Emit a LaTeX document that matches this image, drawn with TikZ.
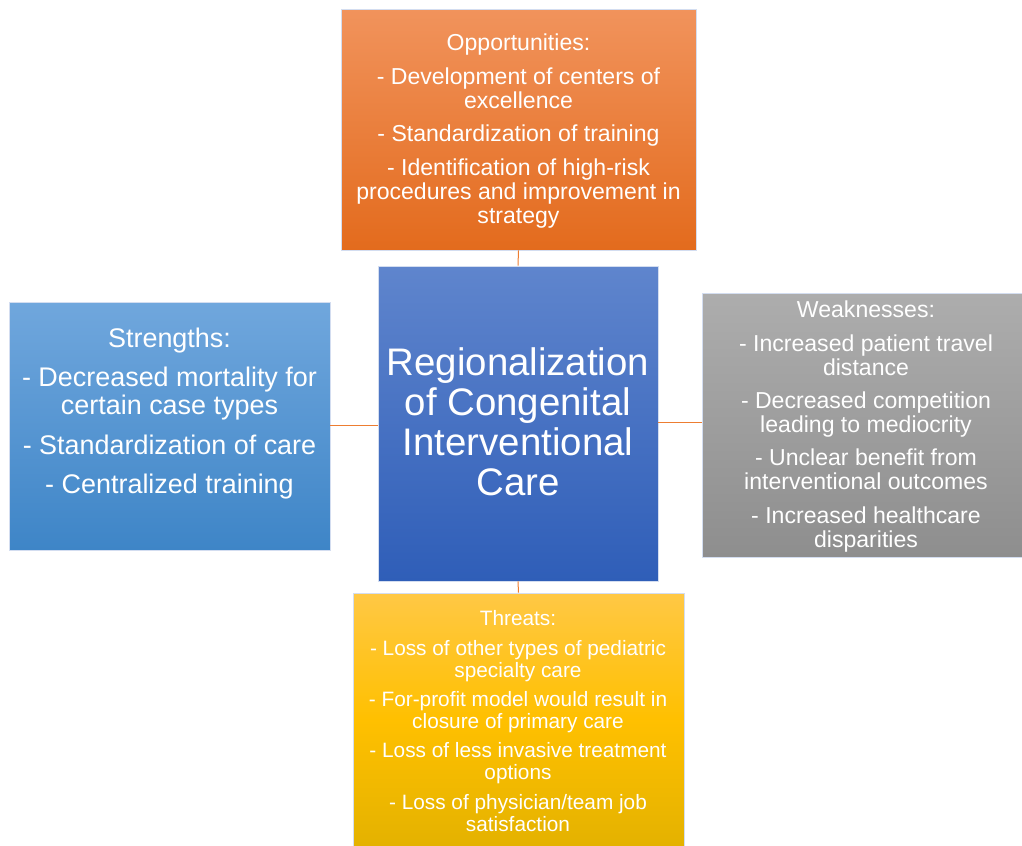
\documentclass[tikz,border=0pt]{standalone}
\usepackage{fontspec}
\setmainfont{Liberation Sans}
\usetikzlibrary{shadings}
\definecolor{oppTop}{HTML}{F1935C}
\definecolor{oppBot}{HTML}{E36B1D}
\definecolor{midTop}{HTML}{5F85CD}
\definecolor{midBot}{HTML}{2F5EB8}
\definecolor{strTop}{HTML}{70A7DD}
\definecolor{strBot}{HTML}{3E85C7}
\definecolor{weakTop}{HTML}{ADADAD}
\definecolor{weakBot}{HTML}{8E8E8E}
\definecolor{thrTop}{HTML}{FFC845}
\definecolor{thrMid}{HTML}{FFC000}
\definecolor{thrBot}{HTML}{E4B200}
\definecolor{link}{HTML}{ED7D31}
\definecolor{rim}{HTML}{D3DDF0}
\tikzset{
  panel/.style={rectangle, inner sep=0pt, draw=rim, line width=0.6pt},
  words/.style={text=white, align=center, inner sep=0pt},
  wire/.style={draw=link, line width=0.75pt}
}
\begin{document}
\begin{tikzpicture}[x=0.75pt, y=-0.75pt]
\useasboundingbox (0,0) rectangle (1022,846);

% panels
\node[panel, top color=oppTop, bottom color=oppBot, minimum width=266.25pt, minimum height=180.75pt] (opp) at (518.5,129.5) {};
\node[panel, top color=midTop, bottom color=midBot, minimum width=210pt, minimum height=236.25pt] (mid) at (518,423.5) {};
\node[panel, top color=strTop, bottom color=strBot, minimum width=240.75pt, minimum height=186pt] (str) at (169.5,426) {};
\node[panel, top color=weakTop, bottom color=weakBot, minimum width=240pt, minimum height=198pt] (weak) at (862,425) {};
\node[panel, top color=thrTop, bottom color=thrBot, middle color=thrMid, minimum width=248.25pt, minimum height=189.75pt] (thr) at (518.5,719.5) {};

% connectors
\draw[wire] (mid.north) -- (opp.south);
\draw[wire] (mid.south) -- (thr.north);
\draw[wire] ([yshift=-1.5pt]mid.west) -- ([yshift=-1.5pt]mid.west -| str.east);
\draw[wire] ([yshift=0.4pt]mid.east) -- ([yshift=0.4pt]mid.east -| weak.west);

% texts
\node[words, font=\fontsize{17.3}{18}\selectfont] (oppText) at (518.5,131) {%
Opportunities:\\[7.3pt]
- Development of centers of\\
excellence\\[7.3pt]
- Standardization of training\\[7.3pt]
- Identification of high-risk\\
procedures and improvement in\\
strategy};

\node[words, font=\fontsize{28.8}{30}\selectfont] (midText) at (518,422) {%
Regionalization\\
of Congenital\\
Interventional\\
Care};

\node[words, font=\fontsize{20.2}{21}\selectfont] (strText) at (169.5,413.5) {%
Strengths:\\[8.6pt]
- Decreased mortality for\\
certain case types\\[8.6pt]
- Standardization of care\\[8.6pt]
- Centralized training};

\node[words, font=\fontsize{17.3}{18}\selectfont] (weakText) at (866,426.5) {%
Weaknesses:\\[7.1pt]
- Increased patient travel\\
distance\\[7.1pt]
- Decreased competition\\
leading to mediocrity\\[7.1pt]
- Unclear benefit from\\
interventional outcomes\\[7.1pt]
- Increased healthcare\\
disparities};

\node[words, font=\fontsize{15.6}{16.5}\selectfont] (thrText) at (518,721) {%
Threats:\\[5.5pt]
- Loss of other types of pediatric\\
specialty care\\[5.5pt]
- For-profit model would result in\\
closure of primary care\\[5.5pt]
- Loss of less invasive treatment\\
options\\[5.5pt]
- Loss of physician/team job\\
satisfaction};
\end{tikzpicture}
\end{document}
